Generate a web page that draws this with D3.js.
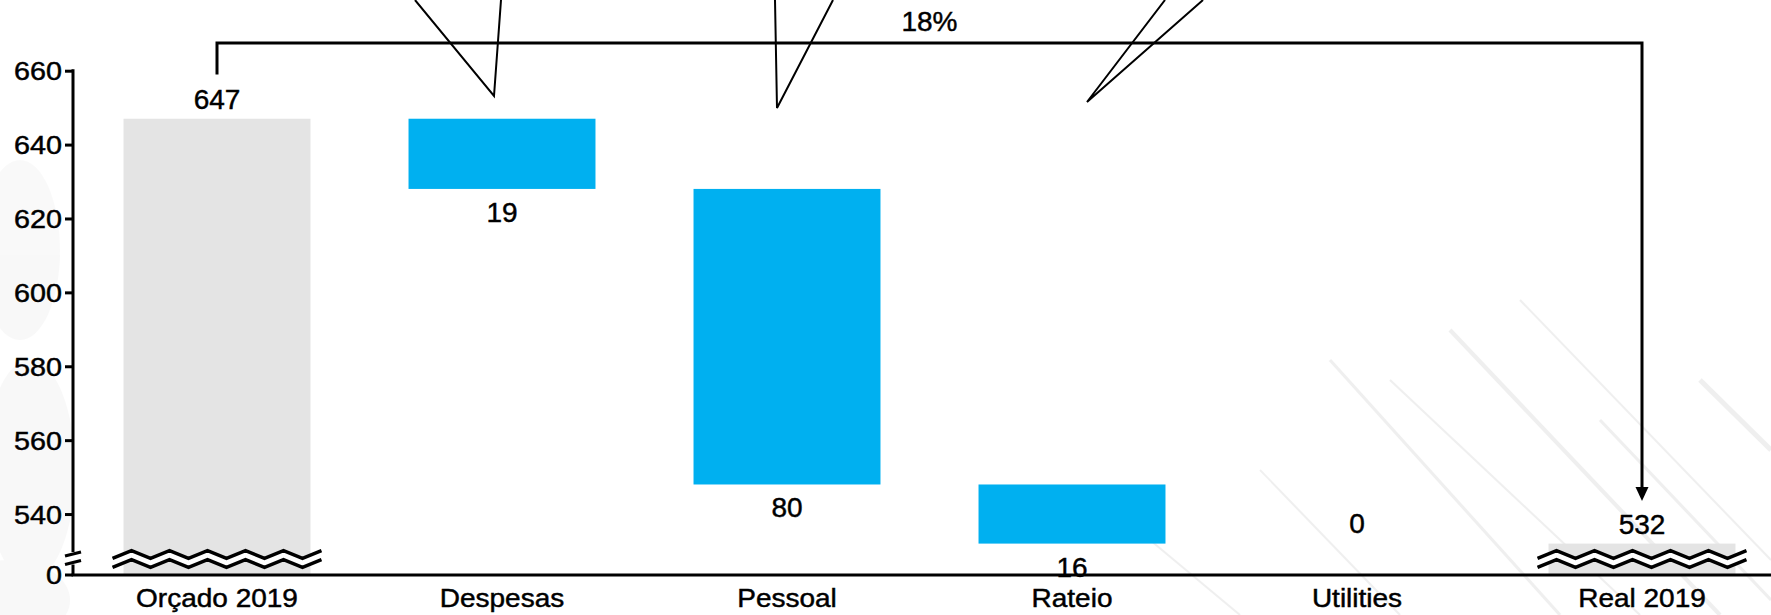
<!DOCTYPE html>
<html>
<head>
<meta charset="utf-8">
<script src="https://cdn.jsdelivr.net/npm/d3@7"></script>
<style>
  html, body { margin: 0; padding: 0; background: #ffffff; }
  svg { display: block; }
  text { font-family: "Liberation Sans", Arial, sans-serif; fill: #000; stroke: #000; stroke-width: 0.45px; }
</style>
</head>
<body>
<svg id="chart" width="1771" height="615"></svg>
<script>
// ---------------- data ----------------
const categories = ["Orçado 2019", "Despesas", "Pessoal", "Rateio", "Utilities", "Real 2019"];
const values     = [647, -19, -80, -16, 0, 532];
const kinds      = ["total", "delta", "delta", "delta", "delta", "total"];
const yTicks     = [540, 560, 580, 600, 620, 640, 660];
const zeroTick   = "0";
const changeLabel = "18%";
// leftover callout pointers: [category, tip dx from band centre, tip y, top-left dx, top-right dx]
const pointerCats = ["Despesas", "Pessoal", "Rateio"];
const pointerTipDx = [-8, -10, 15];
const pointerTipY  = [96, 108, 102];
const pointerTopA  = [-87, -12, 93];
const pointerTopB  = [-1, 46, 131];

// ---------------- layout ----------------
const W = 1771, H = 615;
const axisX = 73, axisY = 575;
const svg = d3.select("#chart");

const x = d3.scaleBand()
  .domain(categories)
  .range([74.5, 1784.5])
  .paddingInner(0.344)
  .paddingOuter(0.172);

const y = d3.scaleLinear()
  .domain([523.5, 660])
  .range([axisY, 70.7]);

const BLUE = "#00b0f0", GREY = "#e4e4e4";

// faint background streaks
const bg = svg.append("g").attr("opacity", 0.06).attr("stroke", "#000").attr("fill", "none");
const streaks = [
  [1330, 360, 1560, 615, 3], [1390, 380, 1640, 615, 2], [1450, 330, 1720, 615, 4],
  [1520, 300, 1771, 560, 2], [1600, 420, 1771, 600, 3], [1260, 470, 1400, 615, 2],
  [1700, 380, 1771, 450, 5], [1150, 540, 1240, 615, 2]
];
streaks.forEach(s => bg.append("line").attr("x1", s[0]).attr("y1", s[1]).attr("x2", s[2]).attr("y2", s[3]).attr("stroke-width", s[4]));
svg.append("g").attr("opacity", 0.025)
  .selectAll("ellipse").data([[20, 250, 40, 90], [30, 470, 45, 110], [10, 600, 60, 40]]).join("ellipse")
  .attr("cx", d => d[0]).attr("cy", d => d[1]).attr("rx", d => d[2]).attr("ry", d => d[3]).attr("fill", "#000");

// ---------------- waterfall geometry ----------------
let running = 0;
const bars = categories.map((c, i) => {
  let lo, hi;
  if (kinds[i] === "total") {
    lo = y.domain()[0]; hi = values[i]; running = values[i];
  } else {
    const start = running, end = running + values[i];
    lo = Math.min(start, end); hi = Math.max(start, end); running = end;
  }
  return { cat: c, v: values[i], kind: kinds[i], lo, hi, level: running };
});

svg.append("g").selectAll("rect")
  .data(bars.filter(b => b.hi - b.lo > 0))
  .join("rect")
  .attr("x", b => x(b.cat))
  .attr("width", x.bandwidth())
  .attr("y", b => y(b.hi))
  .attr("height", b => y(b.lo) - y(b.hi))
  .attr("fill", b => b.kind === "total" ? GREY : BLUE);

// zig-zag breaks on the total bars
function zig(x0, yc, n, step, amp, startHigh) {
  const pts = [];
  for (let k = 0; k <= n; k++) {
    const up = (k % 2 === 0) === startHigh;
    pts.push([x0 + k * step, yc + (up ? -amp : amp)]);
  }
  return pts;
}
bars.filter(b => b.kind === "total").forEach(b => {
  const x0 = x(b.cat) - 11, wid = x.bandwidth() + 22;
  const n = 11, step = wid / n;
  const top = zig(x0, 554.5, n, step, 3.8, false);
  const bot = zig(x0, 563.5, n, step, 3.8, false);
  const area = top.concat(bot.slice().reverse());
  svg.append("path").attr("d", d3.line()(area) + "Z").attr("fill", "#fff");
  [top, bot].forEach(p => svg.append("path").attr("d", d3.line()(p))
    .attr("fill", "none").attr("stroke", "#000").attr("stroke-width", 3.4).attr("stroke-linejoin", "miter"));
});

// ---------------- axes ----------------
const yAxisG = svg.append("g").attr("transform", `translate(${axisX},0)`);
yAxisG.call(d3.axisLeft(y).tickValues(yTicks).tickSize(8).tickPadding(3).tickFormat(d3.format("d")));
yAxisG.select(".domain").remove();
yAxisG.selectAll(".tick line").attr("stroke", "#000").attr("stroke-width", 3);
yAxisG.selectAll(".tick text")
  .style("font-size", "25px")
  .attr("x", null).attr("dy", null)
  .attr("text-anchor", "end")
  .attr("transform", "translate(-11,9) scale(1.15,1)");

// y axis line with break
const brkA = 554, brkB = 562.5;
svg.append("line").attr("x1", axisX).attr("x2", axisX).attr("y1", y(660) - 1.5).attr("y2", brkA - 2)
  .attr("stroke", "#000").attr("stroke-width", 3);
svg.append("line").attr("x1", axisX).attr("x2", axisX).attr("y1", brkB + 2).attr("y2", axisY)
  .attr("stroke", "#000").attr("stroke-width", 3);
[brkA, brkB].forEach(yy => svg.append("line")
  .attr("x1", axisX - 8).attr("y1", yy + 2).attr("x2", axisX + 8).attr("y2", yy - 2)
  .attr("stroke", "#000").attr("stroke-width", 3));
// zero tick
svg.append("line").attr("x1", axisX - 8).attr("x2", axisX).attr("y1", axisY).attr("y2", axisY)
  .attr("stroke", "#000").attr("stroke-width", 3);
svg.append("text").text(zeroTick).style("font-size", "25px").attr("text-anchor", "end")
  .attr("transform", `translate(${axisX - 11},${axisY + 9}) scale(1.15,1)`);

// x axis
svg.append("line").attr("x1", axisX - 1.5).attr("x2", W).attr("y1", axisY).attr("y2", axisY)
  .attr("stroke", "#000").attr("stroke-width", 3);
svg.append("g").selectAll("text").data(categories).join("text")
  .text(d => d)
  .style("font-size", "25px")
  .attr("text-anchor", "middle")
  .attr("transform", d => `translate(${x(d) + x.bandwidth() / 2},607) scale(1.12,1)`);

// ---------------- data labels ----------------
svg.append("g").selectAll("text").data(bars).join("text")
  .text(b => Math.abs(b.v))
  .style("font-size", "28px")
  .attr("text-anchor", "middle")
  .attr("x", b => x(b.cat) + x.bandwidth() / 2)
  .attr("y", b => {
    if (b.kind === "total") return y(b.hi) - 10;
    if (b.v < 0) return y(b.lo) + 33;
    return y(b.level) - 11;
  });

// ---------------- difference bracket ----------------
const cx0 = x(categories[0]) + x.bandwidth() / 2;
const cx1 = x(categories[categories.length - 1]) + x.bandwidth() / 2;
const brY = 43;
svg.append("path")
  .attr("d", d3.line()([[cx0, 74.5], [cx0, brY], [cx1, brY], [cx1, 489]]))
  .attr("fill", "none").attr("stroke", "#000").attr("stroke-width", 3);
svg.append("path")
  .attr("d", d3.line()([[cx1 - 6.5, 487], [cx1 + 6.5, 487], [cx1, 501]]) + "Z")
  .attr("fill", "#000");
svg.append("text").text(changeLabel).style("font-size", "28px").attr("text-anchor", "middle")
  .attr("x", (cx0 + cx1) / 2).attr("y", 31);

// ---------------- leftover callout pointers ----------------
const pg = svg.append("g").attr("fill", "none").attr("stroke", "#000").attr("stroke-width", 2);
pointerCats.forEach((c, i) => {
  const cc = x(c) + x.bandwidth() / 2;
  const tip = [cc + pointerTipDx[i], pointerTipY[i]];
  pg.append("path").attr("d", d3.line()([[cc + pointerTopA[i], 0], tip, [cc + pointerTopB[i], 0]]));
});
</script>
</body>
</html>
